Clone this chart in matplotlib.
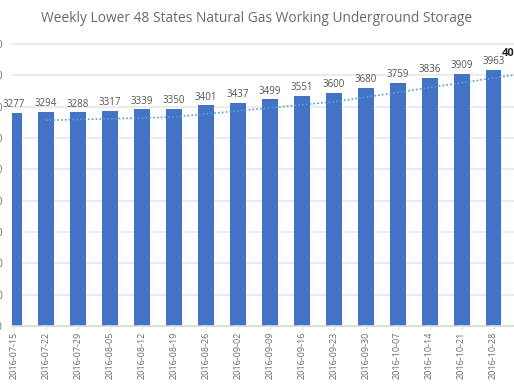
import numpy as np
import matplotlib
matplotlib.use("Agg")
import matplotlib.pyplot as plt
from matplotlib.transforms import offset_copy

# Weekly storage (Bcf); the last week sits just past the visible edge
DATES = [
    "2016-07-15", "2016-07-22", "2016-07-29", "2016-08-05", "2016-08-12",
    "2016-08-19", "2016-08-26", "2016-09-02", "2016-09-09", "2016-09-16",
    "2016-09-23", "2016-09-30", "2016-10-07", "2016-10-14", "2016-10-21",
    "2016-10-28", "2016-11-04",
]
STORAGE = [3277, 3294, 3288, 3317, 3339, 3350, 3401, 3437, 3499, 3551,
           3600, 3680, 3759, 3836, 3909, 3963, 4017]
# dotted reference line (starts at the 2nd week)
TREND = [np.nan, 3163, 3176, 3187, 3200, 3216, 3264, 3313, 3362, 3410,
         3460, 3532, 3608, 3685, 3761, 3838, 3915]

TITLE = "Weekly Lower 48 States Natural Gas Working Underground Storage"

# axis start of the (scrolled) visual and gridline step
Y_MIN = -120
Y_STEP = 500

BAR_C = "#4472C4"
LINE_C = "#5B9BD5"
GRID_C = "#E8E8E8"
TEXT_C = "#6A6A6A"

plt.rcParams["font.family"] = ["Open Sans", "DejaVu Sans"]

W, H = 514, 386
fig = plt.figure(figsize=(W / 100, H / 100), dpi=100)
# plot area runs from x=12px to the right edge, y=40px..326px
ax = fig.add_axes([12 / W, 60 / H, 502 / W, 286 / H])

x = np.arange(len(DATES))
vals = np.array(STORAGE, dtype=float)

ax.bar(x, vals - Y_MIN, bottom=Y_MIN, width=0.5, color=BAR_C, zorder=2)
ax.plot(x, TREND, linestyle=(0, (1, 1.3)), color=LINE_C, linewidth=1.2, zorder=3)

yt = Y_MIN + Y_STEP * np.arange(10)
ax.set_yticks(yt)
ax.set_yticklabels([str(int(v)) for v in yt])
ax.grid(axis="y", color=GRID_C, linewidth=1.2, zorder=0)
ax.set_axisbelow(True)

ax.set_xticks(x)
ax.set_xticklabels(DATES, rotation=90)

# scrolled view: first bar partly hidden, last one off to the right
ax.set_xlim(-0.056, 15.641)
ax.set_ylim(Y_MIN, Y_MIN + 286 * 15.96)

for s in ("top", "right", "left"):
    ax.spines[s].set_visible(False)
ax.spines["bottom"].set_color("#D9D9D9")
ax.spines["bottom"].set_linewidth(1.2)

ax.tick_params(axis="y", length=0, pad=6.5, labelsize=7, labelcolor=TEXT_C)
ax.tick_params(axis="x", length=2.5, color="#D9D9D9", pad=1.5,
               labelsize=6.5, labelcolor=TEXT_C)

# data labels
lab_tr = offset_copy(ax.transData, fig=fig, x=0, y=4.1, units="points")
for xi, v in zip(x[:-1], STORAGE[:-1]):
    ax.text(xi, v, str(v), transform=lab_tr, ha="center", va="baseline",
            fontsize=7, color="#555555")

# highlighted label of the week past the edge
hl_tr = offset_copy(ax.transData, fig=fig, x=-16.9, y=7.8, units="points")
ax.text(x[-1], STORAGE[-1], str(STORAGE[-1]), transform=hl_tr, ha="left",
        va="baseline", fontsize=8, fontweight="bold", color="#252525")

fig.text(257 / W, 1 - 19 / H, TITLE, ha="center", va="center",
         fontsize=9.9, color=TEXT_C)

fig.savefig("out.png", dpi=100)
